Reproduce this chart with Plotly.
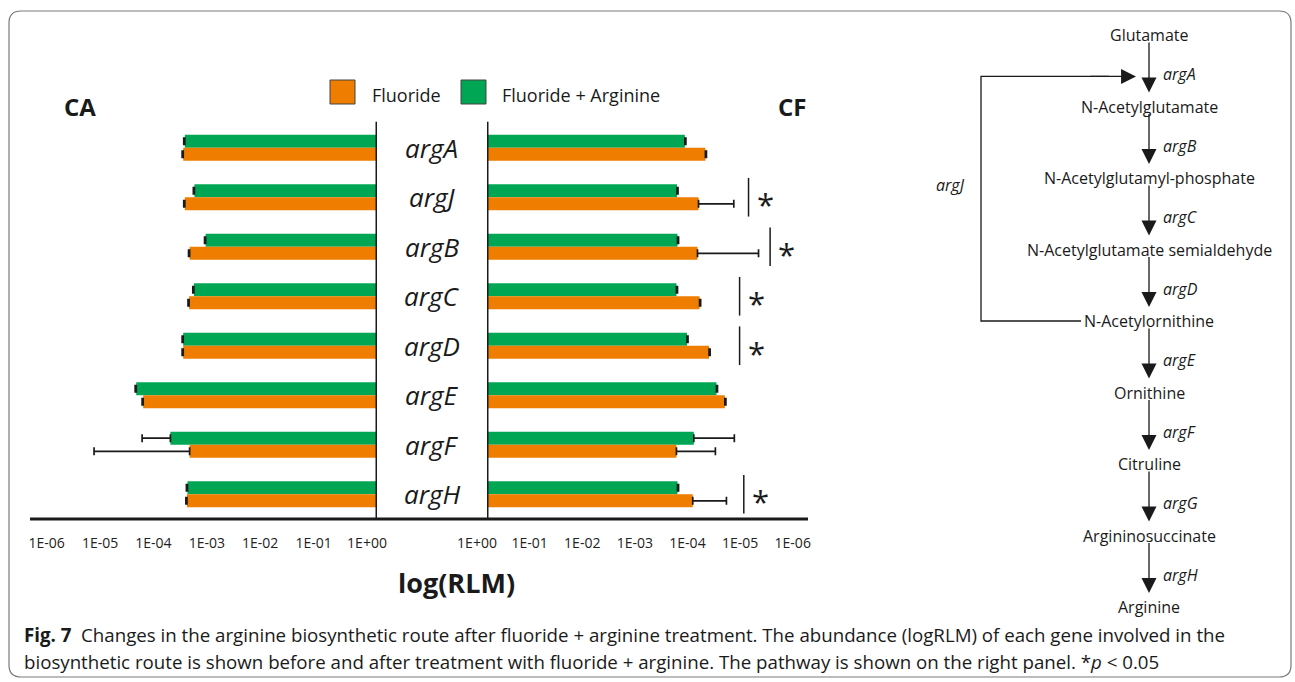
import plotly.graph_objects as go

# ---------------- data ----------------
genes = ["argA", "argJ", "argB", "argC", "argD", "argE", "argF", "argH"]
series_names = ["Fluoride", "Fluoride + Arginine"]

# log10(RLM) values, CA (left panel)
ca_fluoride = [-3.63, -3.60, -3.51, -3.52, -3.63, -4.38, -3.51, -3.56]
ca_fluoride_err = [0.02, 0.02, 0.02, 0.02, 0.02, 0.02, 1.79, 0.02]
ca_fluoride_arg = [-3.60, -3.42, -3.21, -3.43, -3.63, -4.51, -3.87, -3.55]
ca_fluoride_arg_err = [0.02, 0.02, 0.02, 0.02, 0.02, 0.02, 0.53, 0.02]

# log10(RLM) values, CF (right panel)
cf_fluoride = [-4.15, -4.02, -4.00, -4.04, -4.22, -4.52, -3.60, -3.91]
cf_fluoride_err = [0.02, 0.67, 1.16, 0.02, 0.02, 0.02, 0.74, 0.64]
cf_fluoride_arg = [-3.76, -3.61, -3.62, -3.60, -3.80, -4.36, -3.93, -3.62]
cf_fluoride_arg_err = [0.02, 0.02, 0.02, 0.02, 0.02, 0.02, 0.77, 0.02]

significant_cf = ["argJ", "argB", "argC", "argD", "argH"]

tick_vals = [-6, -5, -4, -3, -2, -1, 0]
tick_labels = ["1E-06", "1E-05", "1E-04", "1E-03", "1E-02", "1E-01", "1E+00"]

pathway_metabolites = ["Glutamate", "N-Acetylglutamate", "N-Acetylglutamyl-phosphate",
                       "N-Acetylglutamate semialdehyde", "N-Acetylornithine", "Ornithine",
                       "Citruline", "Argininosuccinate", "Arginine"]
pathway_enzymes = ["argA", "argB", "argC", "argD", "argE", "argF", "argG", "argH"]
recycling_enzyme = "argJ"

caption_line1 = ("<b>Fig. 7</b>  Changes in the arginine biosynthetic route after fluoride + arginine "
                 "treatment. The abundance (logRLM) of each gene involved in the")
caption_line2 = ("biosynthetic route is shown before and after treatment with fluoride + arginine. "
                 "The pathway is shown on the right panel. *<i>p</i> &lt; 0.05")

# ---------------- layout / style ----------------
W, H = 1295, 682
FONT = "Open Sans"
ORANGE = "#EE7D00"
GREEN = "#00A653"
INK = "#1a1a1a"

def px_x(p):
    return p / W

def px_y(p):
    return 1 - p / H

x_left_dom = [px_x(30), px_x(377)]
x_right_dom = [px_x(487), px_x(808)]
y_dom = [px_y(519), px_y(123)]

# significance bar positions (log units) for the CF panel
sig_pos = {"argJ": -4.97, "argB": -5.38, "argC": -4.80, "argD": -4.80, "argH": -4.88}


def err(arr):
    return dict(type="data", symmetric=False, array=[0] * len(arr), arrayminus=arr,
                color=INK, thickness=1.7, width=4)


fig = go.Figure()
# green (Fluoride + Arginine) first so it sits on top within each group
fig.add_bar(y=genes, x=ca_fluoride_arg, orientation="h", marker=dict(color=GREEN, line=dict(width=0)),
            error_x=err(ca_fluoride_arg_err), xaxis="x", yaxis="y", name=series_names[1], showlegend=False)
fig.add_bar(y=genes, x=ca_fluoride, orientation="h", marker=dict(color=ORANGE, line=dict(width=0)),
            error_x=err(ca_fluoride_err), xaxis="x", yaxis="y", name=series_names[0], showlegend=False)
fig.add_bar(y=genes, x=cf_fluoride_arg, orientation="h", marker=dict(color=GREEN, line=dict(width=0)),
            error_x=err(cf_fluoride_arg_err), xaxis="x2", yaxis="y", name=series_names[1], showlegend=False)
fig.add_bar(y=genes, x=cf_fluoride, orientation="h", marker=dict(color=ORANGE, line=dict(width=0)),
            error_x=err(cf_fluoride_err), xaxis="x2", yaxis="y", name=series_names[0], showlegend=False)

axis_common = dict(showgrid=False, zeroline=False, showline=False, ticks="",
                   tickvals=tick_vals, ticktext=tick_labels,
                   tickfont=dict(family=FONT, size=14, color="#222"),
                   ticklabelstandoff=14, fixedrange=True, automargin=False)

shapes = []
annotations = []

# axis lines
shapes.append(dict(type="line", xref="paper", yref="y domain", x0=x_left_dom[0], x1=x_right_dom[1],
                   y0=0, y1=0, line=dict(color=INK, width=3)))
for xr in ["x", "x2"]:
    shapes.append(dict(type="line", xref=xr, yref="y domain", x0=0, x1=0, y0=0, y1=1.003,
                       line=dict(color=INK, width=3)))

# gene labels in the middle
mid = (x_left_dom[1] + x_right_dom[0]) / 2
for g in genes:
    annotations.append(dict(xref="paper", yref="y", x=mid, y=g, text=g, showarrow=False,
                            xanchor="center", yanchor="middle",
                            font=dict(family=FONT, size=26, style="italic", color=INK)))

# significance markers
for g in significant_cf:
    i = genes.index(g)
    shapes.append(dict(type="line", xref="x2", yref="y", x0=sig_pos[g], x1=sig_pos[g],
                       y0=i - 0.39, y1=i + 0.39, line=dict(color=INK, width=1.5)))
    annotations.append(dict(xref="x2", yref="y", x=sig_pos[g], y=i, text="*", showarrow=False,
                            xanchor="left", yanchor="middle", xshift=6, yshift=-7,
                            font=dict(family=FONT, size=31, color=INK)))

# panel titles, axis title
annotations += [
    dict(xref="x3", yref="y3", x=80, y=106, text="<b>CA</b>", showarrow=False,
         font=dict(family=FONT, size=24, color=INK)),
    dict(xref="x3", yref="y3", x=792, y=106, text="<b>CF</b>", showarrow=False,
         font=dict(family=FONT, size=24, color=INK)),
    dict(xref="x3", yref="y3", x=456, y=582, text="<b>log(RLM)</b>", showarrow=False,
         font=dict(family=FONT, size=27, color=INK)),
]

# legend (manual)
legend_items = [(series_names[0], ORANGE, 330, 370), (series_names[1], GREEN, 461, 500)]
for name, col, bx, tx in legend_items:
    shapes.append(dict(type="rect", xref="x3", yref="y3", x0=bx, x1=bx + 25, y0=80, y1=104,
                       fillcolor=col, line=dict(color="#444", width=1)))
    annotations.append(dict(xref="x3", yref="y3", x=tx, y=95, text=name, showarrow=False,
                            xanchor="left", yanchor="middle",
                            font=dict(family=FONT, size=18, color=INK)))

# pathway diagram
px_center = 1149
y0p, step = 35, 71.5
met_y = [y0p + i * step for i in range(len(pathway_metabolites))]
for m, yy in zip(pathway_metabolites, met_y):
    annotations.append(dict(xref="x3", yref="y3", x=px_center, y=yy, text=m, showarrow=False,
                            xanchor="center", yanchor="middle",
                            font=dict(family=FONT, size=16, color=INK)))
for i, e in enumerate(pathway_enzymes):
    ys, ye = met_y[i] + 6, met_y[i + 1] - 14
    annotations.append(dict(xref="x3", yref="y3", x=px_center, y=ye, ax=px_center, ay=ys,
                            axref="x3", ayref="y3", text="", showarrow=True,
                            arrowhead=2, arrowsize=2.3, arrowwidth=1.3, arrowcolor=INK, standoff=0))
    annotations.append(dict(xref="x3", yref="y3", x=px_center + 12, y=met_y[i] + step * 0.55,
                            text=e, showarrow=False, xanchor="left", yanchor="middle",
                            font=dict(family=FONT, size=16, style="italic", color=INK)))

# argJ recycling loop
loop_x = 981
loop_top = met_y[0] + step * 0.58
loop_bot = met_y[4]
shapes.append(dict(type="path", xref="x3", yref="y3",
                   path=f"M {px_center - 68},{loop_bot} H {loop_x} V {loop_top} H {px_center - 40}",
                   line=dict(color=INK, width=1.3)))
annotations.append(dict(xref="x3", yref="y3", x=px_center - 13, y=loop_top, ax=px_center - 60, ay=loop_top,
                        axref="x3", ayref="y3", text="", showarrow=True,
                        arrowhead=2, arrowsize=2.3, arrowwidth=1.3, arrowcolor=INK, standoff=0))
annotations.append(dict(xref="x3", yref="y3", x=loop_x - 14, y=185, text=recycling_enzyme,
                        showarrow=False, xanchor="right", yanchor="middle",
                        font=dict(family=FONT, size=16, style="italic", color=INK)))

# caption
annotations.append(dict(xref="x3", yref="y3", x=22, y=634, text=caption_line1, showarrow=False,
                        xanchor="left", yanchor="middle", font=dict(family=FONT, size=18.7, color=INK)))
annotations.append(dict(xref="x3", yref="y3", x=22, y=661, text=caption_line2, showarrow=False,
                        xanchor="left", yanchor="middle", font=dict(family=FONT, size=18.7, color=INK)))

# rounded border
bx0, by0, bx1, by1, r = 9, 11, 1291, 677, 12
shapes.append(dict(type="path", xref="x3", yref="y3", layer="below",
                   path=(f"M {bx0 + r},{by0} H {bx1 - r} Q {bx1},{by0} {bx1},{by0 + r} "
                         f"V {by1 - r} Q {bx1},{by1} {bx1 - r},{by1} H {bx0 + r} "
                         f"Q {bx0},{by1} {bx0},{by1 - r} V {by0 + r} Q {bx0},{by0} {bx0 + r},{by0} Z"),
                   line=dict(color="#7a7a7a", width=1.2)))

fig.update_layout(
    width=W, height=H, margin=dict(l=0, r=0, t=0, b=0, pad=0, autoexpand=False),
    paper_bgcolor="white", plot_bgcolor="rgba(0,0,0,0)",
    barmode="group", bargap=0.47, bargroupgap=0,
    showlegend=False,
    font=dict(family=FONT, color=INK),
    xaxis=dict(domain=x_left_dom, range=[-6.5, 0], anchor="y", ticklabelshift=-10, **axis_common),
    xaxis2=dict(domain=x_right_dom, range=[0, -6.1], anchor="y", ticklabelshift=10, **axis_common),
    yaxis=dict(domain=y_dom, range=[7.5, -0.5], type="category", categoryorder="array",
               categoryarray=genes, showticklabels=False, showgrid=False, zeroline=False,
               showline=False, ticks="", fixedrange=True, automargin=False),
    xaxis3=dict(domain=[0, 1], range=[0, W], anchor="y3", visible=False, fixedrange=True, automargin=False),
    yaxis3=dict(domain=[0, 1], range=[H, 0], anchor="x3", visible=False, fixedrange=True, automargin=False),
    shapes=shapes, annotations=annotations,
)

fig.write_html("out.html")
